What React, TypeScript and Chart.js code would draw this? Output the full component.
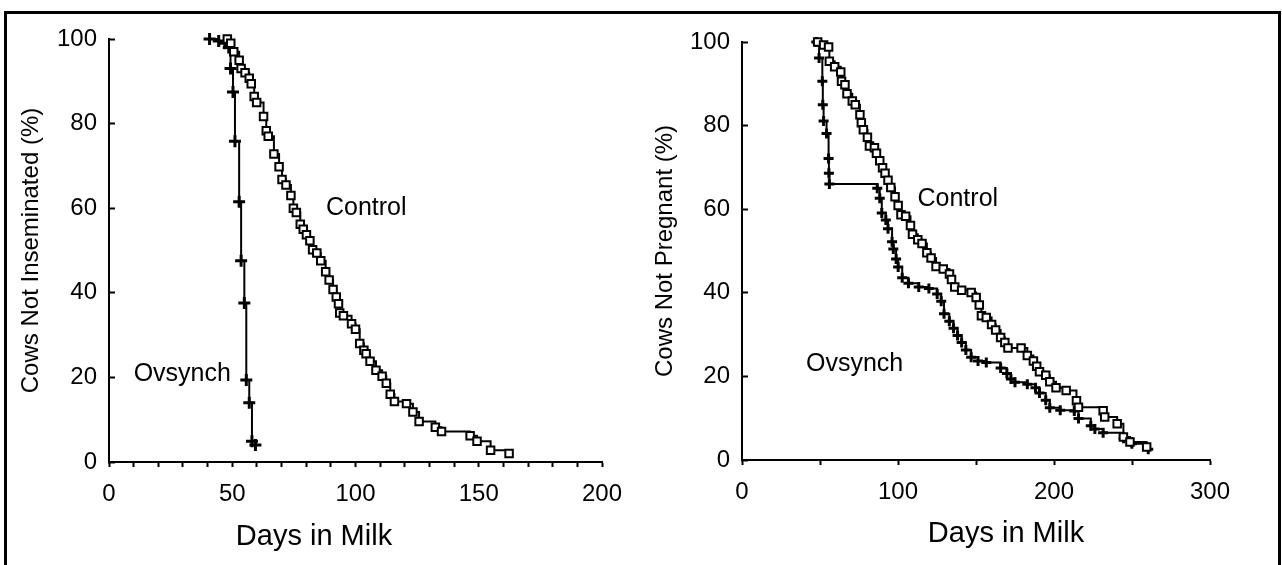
import React, { useEffect, useRef } from "react";
import { Chart, registerables } from "chart.js";

Chart.register(...registerables);

const FONT = "'Liberation Sans', Arial, Helvetica, sans-serif";

// ---- Left panel: Cows Not Inseminated (%) ----
const leftControlDays = [48, 49.4, 50.6, 52.8, 53.6, 55.2, 56.9, 57.7, 58.9, 59.9, 62.7, 63.8, 64.6, 66.9, 69, 70.2, 71.8, 73.8, 74.8, 76, 77.6, 78.8, 80.1, 81.5, 82.6, 84.3, 85.9, 87.9, 89.3, 90.9, 92.2, 93.1, 93.6, 95.1, 98.4, 100, 101.7, 103.4, 104.3, 105.9, 108.3, 110.8, 112.5, 114.1, 115.8, 120.7, 123.3, 125.8, 132.4, 134.9, 146.5, 149.3, 154.8, 162.3];
const leftControlPct = [100, 99, 97, 95, 93, 92, 90.7, 89.4, 86.4, 85, 81.7, 78.3, 77, 72.8, 69.8, 66.8, 65.5, 63, 60, 59, 56.2, 55, 53.7, 52.3, 50.2, 49.4, 47.6, 45, 43, 40.8, 39, 37.4, 35.2, 34.6, 32.7, 31.4, 28, 26.4, 25.6, 23.8, 21.7, 20.3, 18.6, 16, 14.3, 13.8, 11.8, 9.6, 8.2, 7.2, 6.2, 4.9, 2.8, 2];
const leftOvsynchDays = [40.8, 44.5, 47, 48.6, 49.3, 50.3, 51.1, 52.8, 53.6, 54.9, 55.7, 56.9, 58, 59.4];
const leftOvsynchPct = [100, 99.5, 99, 98, 93, 87.5, 75.8, 61.5, 47.6, 37.6, 19.4, 14, 4.9, 4];

// ---- Right panel: Cows Not Pregnant (%) ----
const rightControlDays = [48.5, 52.3, 55.5, 56, 59.4, 63.3, 63.8, 66, 67.3, 70.7, 72.6, 75.6, 76.5, 77.8, 80.4, 81.7, 84.9, 86.2, 88.3, 90.1, 91.7, 93.6, 95.4, 98.1, 100.1, 101.9, 104.9, 108, 109.3, 112.7, 115.4, 118.5, 121.2, 124.4, 129, 133, 134.3, 136.4, 140.8, 146.9, 150.1, 152.1, 153.5, 156.6, 160, 162.6, 165.8, 168.5, 170.5, 178.9, 182.9, 186.8, 188.9, 190.7, 194.7, 197.3, 201.3, 207.8, 214.4, 215.7, 231.5, 232.5, 240.5, 244.5, 248.7, 259.4];
const rightControlPct = [100, 99.3, 98.8, 95.4, 94.1, 92.8, 90.6, 89.8, 87.6, 85.9, 85, 82.6, 80.7, 79, 77.2, 75.1, 74.7, 73.4, 71.6, 69.9, 68.6, 66.9, 65.2, 63, 60.9, 58.7, 58.3, 56.1, 54, 52.7, 51.8, 49.6, 48.3, 46.3, 45.7, 44.5, 43.2, 41.4, 40.6, 40.1, 38.9, 37.1, 34.5, 34.1, 32.4, 31.1, 29.3, 28.1, 26.8, 26.8, 25, 23.7, 22.4, 21.1, 20.3, 18.7, 17.3, 16.6, 14.2, 12.6, 11.8, 10.3, 8.7, 5.5, 4.3, 3.1];
const rightOvsynchDays = [47.6, 49.4, 51.5, 51.8, 52.3, 54.2, 55.5, 55.7, 56, 86.7, 88.3, 89.6, 92.2, 93.6, 96.2, 97, 98.8, 100.1, 102.7, 106.7, 113.3, 119.8, 125.1, 127.7, 129.5, 132.9, 135.6, 138.2, 140.8, 143.5, 146.9, 151.3, 156.6, 165.8, 169.8, 172.4, 175, 182.9, 188.1, 190.7, 194.7, 197.3, 204, 213, 215.7, 223.6, 226.2, 231.5, 244.6, 249.9, 260.4];
const rightOvsynchPct = [100, 96.2, 90.6, 85, 81.1, 78.1, 72.1, 68.6, 66, 65, 62.6, 59.1, 57.4, 55.3, 52.2, 50.5, 48.1, 46.2, 43.6, 42.3, 41.4, 41, 39.7, 38, 35, 33.2, 31.5, 29.8, 28.1, 26.3, 24.6, 23.7, 23.3, 22, 20.7, 19.4, 18.6, 18.1, 17.3, 16, 14.3, 12.5, 11.9, 11.7, 9.9, 8.2, 7.4, 6.5, 5.2, 3.9, 2.6];

const yTicks = [0, 20, 40, 60, 80, 100];
const seriesNames = ["Control", "Ovsynch"];

const zip = (xs: number[], ys: number[]) => xs.map((x, i) => ({ x, y: ys[i] }));

type Panel = {
  left: number;
  width: number;
  area: { left: number; right: number; top: number; bottom: number };
  xMax: number;
  xStep: number;
  xLabelStep: number;
  yTitle: string;
  yTitleX: number;
  xTitle: string;
  xTitleX: number;
  xTitleY: number;
  control: { x: number; y: number }[];
  ovsynch: { x: number; y: number }[];
  crossRadius: number;
  notes: { text: string; x: number; y: number }[];
};

const panels: Panel[] = [
  {
    left: 0,
    width: 640,
    area: { left: 109, right: 602, top: 39, bottom: 462 },
    xMax: 200,
    xStep: 10,
    xLabelStep: 50,
    yTitle: "Cows Not Inseminated (%)",
    yTitleX: 31,
    xTitle: "Days in Milk",
    xTitleX: 314,
    xTitleY: 545,
    control: zip(leftControlDays, leftControlPct),
    ovsynch: zip(leftOvsynchDays, leftOvsynchPct),
    crossRadius: 6,
    notes: [
      { text: seriesNames[0], x: 88, y: 58.3 },
      { text: seriesNames[1], x: 10, y: 19.1 },
    ],
  },
  {
    left: 640,
    width: 642,
    area: { left: 102, right: 570, top: 42, bottom: 460 },
    xMax: 300,
    xStep: 50,
    xLabelStep: 100,
    yTitle: "Cows Not Pregnant (%)",
    yTitleX: 25,
    xTitle: "Days in Milk",
    xTitleX: 366,
    xTitleY: 542,
    control: zip(rightControlDays, rightControlPct),
    ovsynch: zip(rightOvsynchDays, rightOvsynchPct),
    crossRadius: 5,
    notes: [
      { text: seriesNames[0], x: 112.5, y: 60.8 },
      { text: seriesNames[1], x: 41, y: 21.3 },
    ],
  },
];

const HEIGHT = 565;

function PanelChart({ p }: { p: Panel }) {
  const ref = useRef<HTMLCanvasElement | null>(null);
  useEffect(() => {
    if (!ref.current) return;
    const textPlugin = {
      id: "panelTexts",
      afterDraw(chart: any) {
        const { ctx, chartArea, scales } = chart;
        ctx.save();
        ctx.fillStyle = "#000";
        // y title
        ctx.save();
        ctx.font = `24px ${FONT}`;
        ctx.translate(p.yTitleX, (chartArea.top + chartArea.bottom) / 2);
        ctx.rotate(-Math.PI / 2);
        ctx.textAlign = "center";
        ctx.textBaseline = "middle";
        ctx.fillText(p.yTitle, 0, 0);
        ctx.restore();
        // x title
        ctx.font = `29px ${FONT}`;
        ctx.textAlign = "center";
        ctx.textBaseline = "alphabetic";
        ctx.fillText(p.xTitle, p.xTitleX, p.xTitleY);
        // notes
        ctx.font = `25px ${FONT}`;
        ctx.textAlign = "left";
        for (const n of p.notes) {
          ctx.fillText(n.text, scales.x.getPixelForValue(n.x), scales.y.getPixelForValue(n.y));
        }
        ctx.restore();
      },
    };
    const chart = new Chart(ref.current, {
      type: "line",
      data: {
        datasets: [
          {
            label: seriesNames[0],
            data: p.control,
            borderColor: "#000",
            borderWidth: 2,
            stepped: "before",
            pointStyle: "rect",
            pointRadius: 5.3,
            pointBorderWidth: 2,
            pointBackgroundColor: "#fff",
            pointBorderColor: "#000",
            clip: false,
          },
          {
            label: seriesNames[1],
            data: p.ovsynch,
            borderColor: "#000",
            borderWidth: 2,
            stepped: "before",
            pointStyle: "cross",
            pointRadius: p.crossRadius,
            pointBorderWidth: 3,
            pointBorderColor: "#000",
            pointBackgroundColor: "#000",
            clip: false,
          },
        ],
      },
      options: {
        animation: false,
        responsive: false,
        devicePixelRatio: 1,
        events: [],
        layout: {
          padding: {
            left: 0,
            top: p.area.top,
            right: p.width - p.area.right,
            bottom: 0,
          },
        },
        plugins: {
          legend: { display: false },
          tooltip: { enabled: false },
          title: { display: false },
        },
        scales: {
          x: {
            type: "linear",
            min: 0,
            max: p.xMax,
            offset: false,
            afterFit: (s: any) => {
              s.height = HEIGHT - p.area.bottom;
            },
            border: { display: true, color: "#000", width: 2 },
            grid: {
              drawOnChartArea: false,
              drawTicks: true,
              tickLength: 5,
              tickColor: "#000",
              tickWidth: 2,
            },
            ticks: {
              stepSize: p.xStep,
              autoSkip: false,
              maxRotation: 0,
              padding: 13,
              color: "#000",
              font: { family: FONT, size: 24 },
              callback: (v: any) => (Number(v) % p.xLabelStep === 0 ? String(v) : ""),
            },
          },
          y: {
            type: "linear",
            min: 0,
            max: 100,
            afterFit: (s: any) => {
              s.width = p.area.left;
            },
            afterBuildTicks: (s: any) => {
              s.ticks = yTicks.map((v) => ({ value: v }));
            },
            border: { display: true, color: "#000", width: 2 },
            grid: {
              drawOnChartArea: false,
              drawTicks: true,
              tickLength: -6,
              tickColor: "#000",
              tickWidth: 2,
            },
            ticks: {
              padding: 18,
              color: "#000",
              font: { family: FONT, size: 24 },
            },
          },
        },
      },
      plugins: [textPlugin],
    } as any);
    return () => chart.destroy();
  }, [p]);
  return (
    <canvas
      ref={ref}
      width={p.width}
      height={HEIGHT}
      style={{ position: "absolute", left: p.left, top: 0, width: p.width, height: HEIGHT }}
    />
  );
}

export default function App() {
  return (
    <div
      style={{
        position: "absolute",
        left: 0,
        top: 0,
        width: 1282,
        height: HEIGHT,
        background: "#fff",
        overflow: "hidden",
      }}
    >
      <div
        style={{
          position: "absolute",
          left: 4,
          top: 11,
          width: 1277,
          height: 700,
          boxSizing: "border-box",
          border: "3px solid #000",
        }}
      />
      {panels.map((p, i) => (
        <PanelChart key={i} p={p} />
      ))}
    </div>
  );
}
